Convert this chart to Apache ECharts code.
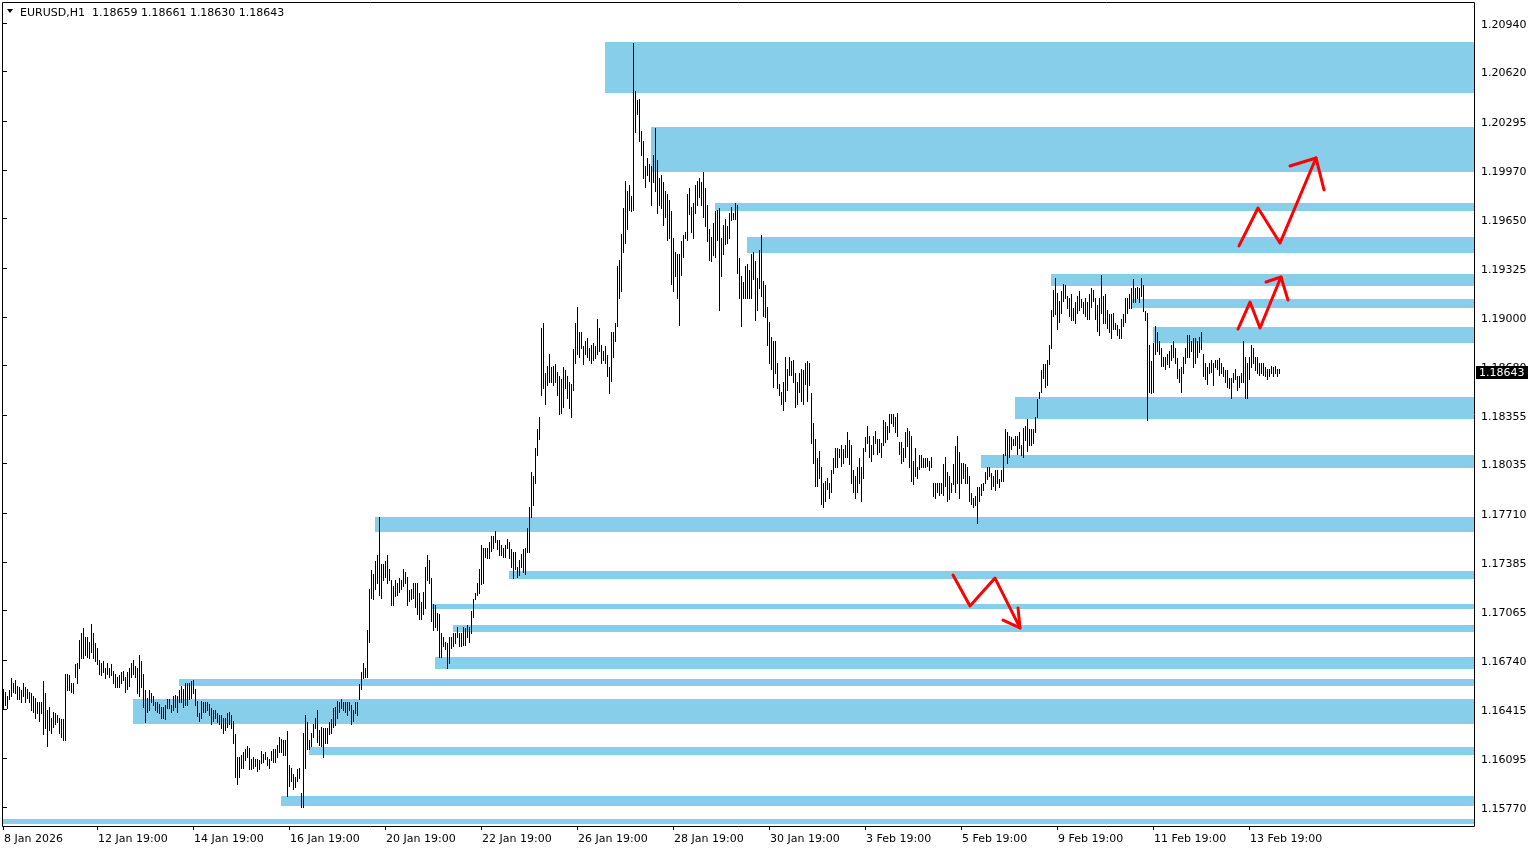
<!DOCTYPE html>
<html><head><meta charset="utf-8">
<script src="https://cdn.jsdelivr.net/npm/echarts@6/dist/echarts.min.js"></script>
<style>html,body{margin:0;padding:0;background:#fff}#c{width:1538px;height:850px}</style>
</head><body><div id="c"></div>
<script>
// ---- data ----
const symbolName = "EURUSD,H1";
const lastOHLC = [1.18659, 1.18661, 1.18630, 1.18643];
const timeLabels = ["8 Jan 2026","12 Jan 19:00","14 Jan 19:00","16 Jan 19:00","20 Jan 19:00","22 Jan 19:00","26 Jan 19:00","28 Jan 19:00","30 Jan 19:00","3 Feb 19:00","5 Feb 19:00","9 Feb 19:00","11 Feb 19:00","13 Feb 19:00"];
const timeLabelBars = [0,47,95,143,191,239,287,335,383,431,479,527,575,623];
const priceTicks = [1.20940,1.20620,1.20295,1.19970,1.19650,1.19325,1.19000,1.18680,1.18355,1.18035,1.17710,1.17385,1.17065,1.16740,1.16415,1.16095,1.15770];

const highs = [
1.1655,1.1653,1.1650,1.1654,1.1662,1.1659,1.1661,1.1657,1.1656,1.1654,
1.1659,1.1656,1.1655,1.1653,1.1652,1.1650,1.1649,1.1646,1.1646,1.1646,
1.1660,1.1652,1.1641,1.1643,1.1636,1.1640,1.1639,1.1638,1.1636,1.1635,
1.1635,1.1665,1.1665,1.1664,1.1659,1.1659,1.1671,1.1672,1.1687,1.1692,
1.1695,1.1689,1.1689,1.1686,1.1698,1.1692,1.1685,1.1682,1.1674,1.1672,
1.1673,1.1669,1.1672,1.1669,1.1671,1.1667,1.1665,1.1663,1.1664,1.1666,
1.1667,1.1663,1.1666,1.1669,1.1672,1.1674,1.1670,1.1669,1.1677,1.1673,
1.1665,1.1654,1.1649,1.1654,1.1652,1.1650,1.1646,1.1646,1.1645,1.1643,
1.1643,1.1644,1.1648,1.1648,1.1644,1.1650,1.1651,1.1650,1.1654,1.1657,
1.1655,1.1659,1.1659,1.1659,1.1660,1.1661,1.1655,1.1647,1.1639,1.1647,
1.1646,1.1646,1.1646,1.1645,1.1642,1.1641,1.1641,1.1639,1.1638,1.1638,
1.1636,1.1636,1.1639,1.1640,1.1638,1.1634,1.1625,1.1610,1.1610,1.1611,
1.1613,1.1615,1.1617,1.1616,1.1609,1.1610,1.1609,1.1609,1.1608,1.1614,
1.1612,1.1613,1.1610,1.1609,1.1614,1.1615,1.1615,1.1618,1.1623,1.1622,
1.1621,1.1621,1.1627,1.1605,1.1603,1.1599,1.1597,1.1602,1.1603,1.1586,
1.1626,1.1638,1.1633,1.1621,1.1626,1.1632,1.1636,1.1641,1.1628,1.1630,
1.1629,1.1629,1.1629,1.1633,1.1635,1.1642,1.1643,1.1647,1.1646,1.1648,
1.1646,1.1646,1.1646,1.1646,1.1644,1.1641,1.1646,1.1646,1.1658,1.1666,
1.1672,1.1669,1.1694,1.1721,1.1733,1.1731,1.1739,1.1743,1.1768,1.1737,
1.1737,1.1739,1.1743,1.1734,1.1727,1.1723,1.1727,1.1725,1.1728,1.1727,
1.1734,1.1732,1.1729,1.1720,1.1721,1.1725,1.1725,1.1725,1.1718,1.1712,
1.1719,1.1735,1.1743,1.1740,1.1728,1.1711,1.1710,1.1705,1.1704,1.1692,
1.1689,1.1686,1.1685,1.1689,1.1689,1.1692,1.1692,1.1696,1.1692,1.1692,
1.1696,1.1695,1.1697,1.1696,1.1706,1.1714,1.1718,1.1725,1.1734,1.1750,
1.1748,1.1748,1.1748,1.1752,1.1756,1.1756,1.1759,1.1753,1.1753,1.1750,
1.1748,1.1750,1.1754,1.1752,1.1747,1.1745,1.1745,1.1735,1.1740,1.1744,
1.1747,1.1748,1.1761,1.1775,1.1798,1.1795,1.1814,1.1826,1.1834,1.1893,
1.1896,1.1863,1.1868,1.1876,1.1867,1.1868,1.1869,1.1864,1.1861,1.1859,
1.1867,1.1865,1.1861,1.1857,1.1856,1.1879,1.1896,1.1907,1.1890,1.1890,
1.1881,1.1884,1.1886,1.1880,1.1882,1.1883,1.1881,1.1899,1.1893,1.1882,
1.1878,1.1881,1.1875,1.1867,1.1890,1.1890,1.1896,1.1934,1.1938,1.1955,
1.1972,1.1990,1.1983,1.1987,1.1980,1.2081,1.2049,1.2043,1.2044,1.2023,
1.2016,1.2000,1.2005,1.2001,1.2000,1.2007,1.2025,1.2004,1.1992,1.1994,
1.1989,1.1983,1.1981,1.1977,1.1970,1.1952,1.1943,1.1942,1.1942,1.1950,
1.1954,1.1956,1.1981,1.1985,1.1973,1.1975,1.1987,1.1990,1.1992,1.1989,
1.1996,1.1985,1.1974,1.1958,1.1953,1.1962,1.1970,1.1971,1.1972,1.1952,
1.1961,1.1965,1.1960,1.1969,1.1973,1.1969,1.1975,1.1974,1.1939,1.1927,
1.1923,1.1934,1.1935,1.1931,1.1942,1.1943,1.1937,1.1926,1.1944,1.1954,
1.1924,1.1921,1.1907,1.1897,1.1887,1.1884,1.1884,1.1870,1.1856,1.1851,
1.1857,1.1874,1.1866,1.1874,1.1871,1.1872,1.1863,1.1857,1.1863,1.1866,
1.1865,1.1870,1.1871,1.1870,1.1850,1.1830,1.1820,1.1807,1.1812,1.1801,
1.1791,1.1792,1.1794,1.1791,1.1799,1.1807,1.1814,1.1814,1.1813,1.1816,
1.1813,1.1816,1.1824,1.1819,1.1816,1.1799,1.1795,1.1801,1.1807,1.1801,
1.1814,1.1821,1.1828,1.1822,1.1816,1.1822,1.1825,1.1820,1.1820,1.1817,
1.1832,1.1831,1.1828,1.1836,1.1836,1.1836,1.1834,1.1837,1.1818,1.1818,
1.1814,1.1824,1.1827,1.1825,1.1822,1.1805,1.1814,1.1801,1.1809,1.1809,
1.1807,1.1807,1.1807,1.1805,1.1808,1.1791,1.1791,1.1791,1.1791,1.1791,
1.1803,1.1808,1.1798,1.1795,1.1791,1.1803,1.1815,1.1822,1.1811,1.1804,
1.1804,1.1803,1.1801,1.1795,1.1784,1.1781,1.1782,1.1788,1.1788,1.1790,
1.1791,1.1798,1.1801,1.1801,1.1797,1.1795,1.1799,1.1799,1.1793,1.1799,
1.1810,1.1826,1.1824,1.1822,1.1821,1.1820,1.1822,1.1822,1.1824,1.1816,
1.1827,1.1828,1.1833,1.1826,1.1826,1.1826,1.1834,1.1846,1.1851,1.1865,
1.1869,1.1869,1.1872,1.1882,1.1905,1.1918,1.1926,1.1916,1.1911,1.1917,
1.1922,1.1921,1.1914,1.1913,1.1915,1.1906,1.1910,1.1914,1.1917,1.1912,
1.1910,1.1913,1.1910,1.1915,1.1919,1.1918,1.1913,1.1908,1.1913,1.1928,
1.1914,1.1915,1.1905,1.1902,1.1902,1.1903,1.1896,1.1895,1.1892,1.1899,
1.1902,1.1913,1.1913,1.1915,1.1919,1.1925,1.1919,1.1920,1.1919,1.1926,
1.1921,1.1904,1.1903,1.1882,1.1871,1.1883,1.1894,1.1890,1.1884,1.1880,
1.1874,1.1874,1.1876,1.1878,1.1882,1.1884,1.1880,1.1873,1.1866,1.1867,
1.1874,1.1880,1.1888,1.1888,1.1884,1.1886,1.1886,1.1884,1.1887,1.1890,
1.1876,1.1870,1.1867,1.1870,1.1872,1.1870,1.1872,1.1872,1.1873,1.1870,
1.1867,1.1865,1.1865,1.1860,1.1860,1.1863,1.1866,1.1861,1.1861,1.1863,
1.1884,1.1874,1.1870,1.1874,1.1882,1.1880,1.1874,1.1874,1.1870,1.1870,
1.1870,1.1867,1.1866,1.1866,1.1868,1.1867,1.1868,1.1866,1.18661
];
const lows = [
1.1642,1.1644,1.1642,1.1648,1.1650,1.1653,1.1652,1.1648,1.1648,1.1646,
1.1650,1.1646,1.1649,1.1646,1.1641,1.1640,1.1636,1.1639,1.1634,1.1639,
1.1625,1.1629,1.1617,1.1628,1.1626,1.1630,1.1632,1.1633,1.1626,1.1623,
1.1621,1.1621,1.1654,1.1654,1.1653,1.1652,1.1663,1.1659,1.1669,1.1675,
1.1675,1.1677,1.1676,1.1675,1.1679,1.1675,1.1673,1.1671,1.1665,1.1664,
1.1666,1.1662,1.1665,1.1663,1.1664,1.1659,1.1656,1.1656,1.1656,1.1659,
1.1661,1.1653,1.1655,1.1657,1.1663,1.1665,1.1663,1.1652,1.1650,1.1656,
1.1643,1.1633,1.1640,1.1641,1.1646,1.1644,1.1641,1.1640,1.1639,1.1636,
1.1636,1.1635,1.1642,1.1642,1.1640,1.1641,1.1643,1.1640,1.1646,1.1646,
1.1643,1.1644,1.1644,1.1648,1.1649,1.1652,1.1644,1.1637,1.1634,1.1636,
1.1640,1.1640,1.1641,1.1638,1.1632,1.1634,1.1636,1.1633,1.1632,1.1629,
1.1626,1.1628,1.1630,1.1632,1.1629,1.1619,1.1597,1.1592,1.1597,1.1603,
1.1603,1.1608,1.1610,1.1602,1.1602,1.1603,1.1604,1.1601,1.1602,1.1606,
1.1607,1.1609,1.1605,1.1603,1.1608,1.1607,1.1607,1.1610,1.1613,1.1613,
1.1611,1.1611,1.1584,1.1591,1.1594,1.1589,1.1590,1.1594,1.1596,1.1577,
1.1577,1.1603,1.1615,1.1615,1.1617,1.1623,1.1629,1.1620,1.1618,1.1617,
1.1610,1.1619,1.1619,1.1625,1.1626,1.1630,1.1631,1.1636,1.1640,1.1642,
1.1641,1.1640,1.1638,1.1641,1.1632,1.1634,1.1639,1.1638,1.1648,1.1655,
1.1662,1.1663,1.1663,1.1686,1.1715,1.1714,1.1721,1.1725,1.1717,1.1715,
1.1727,1.1729,1.1725,1.1727,1.1710,1.1710,1.1716,1.1717,1.1719,1.1721,
1.1723,1.1725,1.1710,1.1713,1.1714,1.1715,1.1709,1.1704,1.1701,1.1701,
1.1704,1.1708,1.1727,1.1725,1.1700,1.1694,1.1696,1.1694,1.1676,1.1676,
1.1683,1.1681,1.1669,1.1672,1.1682,1.1683,1.1685,1.1689,1.1683,1.1683,
1.1684,1.1684,1.1689,1.1686,1.1692,1.1702,1.1714,1.1717,1.1718,1.1724,
1.1725,1.1742,1.1741,1.1741,1.1746,1.1748,1.1752,1.1747,1.1743,1.1743,
1.1742,1.1742,1.1748,1.1741,1.1735,1.1728,1.1734,1.1729,1.1730,1.1735,
1.1732,1.1731,1.1745,1.1745,1.1768,1.1776,1.1791,1.1809,1.1820,1.1849,
1.1853,1.1843,1.1855,1.1857,1.1857,1.1855,1.1857,1.1849,1.1836,1.1837,
1.1841,1.1853,1.1847,1.1840,1.1834,1.1852,1.1870,1.1876,1.1874,1.1880,
1.1869,1.1876,1.1874,1.1872,1.1870,1.1872,1.1873,1.1876,1.1878,1.1870,
1.1872,1.1870,1.1861,1.1850,1.1858,1.1874,1.1884,1.1894,1.1913,1.1917,
1.1943,1.1949,1.1958,1.1971,1.1970,1.1971,1.2022,1.2034,1.2016,1.2007,
1.1992,1.1986,1.1994,1.1990,1.1974,1.1989,1.1983,1.1969,1.1974,1.1972,
1.1961,1.1966,1.1951,1.1952,1.1922,1.1917,1.1927,1.1913,1.1895,1.1928,
1.1940,1.1952,1.1951,1.1968,1.1956,1.1952,1.1969,1.1974,1.1979,1.1974,
1.1966,1.1960,1.1950,1.1938,1.1937,1.1941,1.1940,1.1951,1.1905,1.1927,
1.1942,1.1948,1.1949,1.1952,1.1964,1.1965,1.1965,1.1929,1.1913,1.1894,
1.1913,1.1913,1.1913,1.1913,1.1913,1.1925,1.1898,1.1905,1.1919,1.1914,
1.1901,1.1900,1.1882,1.1870,1.1866,1.1854,1.1863,1.1853,1.1849,1.1843,
1.1839,1.1845,1.1852,1.1862,1.1862,1.1857,1.1841,1.1843,1.1851,1.1845,
1.1843,1.1856,1.1845,1.1855,1.1817,1.1804,1.1789,1.1789,1.1794,1.1777,
1.1775,1.1779,1.1787,1.1781,1.1785,1.1797,1.1801,1.1801,1.1808,1.1802,
1.1804,1.1808,1.1808,1.1803,1.1791,1.1785,1.1781,1.1785,1.1791,1.1779,
1.1794,1.1812,1.1817,1.1808,1.1805,1.1810,1.1817,1.1810,1.1811,1.1808,
1.1816,1.1818,1.1820,1.1824,1.1830,1.1828,1.1824,1.1822,1.1810,1.1804,
1.1805,1.1808,1.1815,1.1801,1.1792,1.1790,1.1795,1.1794,1.1800,1.1801,
1.1801,1.1801,1.1802,1.1799,1.1801,1.1782,1.1781,1.1785,1.1783,1.1784,
1.1783,1.1789,1.1779,1.1780,1.1785,1.1790,1.1785,1.1791,1.1781,1.1791,
1.1794,1.1791,1.1791,1.1779,1.1777,1.1775,1.1776,1.1764,1.1779,1.1783,
1.1786,1.1791,1.1793,1.1795,1.1787,1.1789,1.1786,1.1791,1.1788,1.1792,
1.1792,1.1809,1.1804,1.1808,1.1813,1.1816,1.1816,1.1810,1.1814,1.1809,
1.1808,1.1819,1.1812,1.1816,1.1816,1.1817,1.1824,1.1834,1.1847,1.1851,
1.1860,1.1854,1.1855,1.1869,1.1880,1.1901,1.1902,1.1892,1.1897,1.1903,
1.1911,1.1913,1.1906,1.1901,1.1898,1.1898,1.1896,1.1903,1.1905,1.1907,
1.1903,1.1901,1.1899,1.1899,1.1907,1.1911,1.1899,1.1891,1.1888,1.1903,
1.1896,1.1896,1.1893,1.1890,1.1886,1.1892,1.1892,1.1888,1.1886,1.1886,
1.1894,1.1897,1.1903,1.1906,1.1906,1.1910,1.1910,1.1913,1.1910,1.1914,
1.1904,1.1898,1.1832,1.1851,1.1850,1.1851,1.1876,1.1878,1.1876,1.1868,
1.1868,1.1866,1.1869,1.1867,1.1872,1.1874,1.1870,1.1860,1.1857,1.1851,
1.1863,1.1870,1.1874,1.1874,1.1878,1.1867,1.1870,1.1874,1.1877,1.1879,
1.1861,1.1859,1.1856,1.1863,1.1864,1.1855,1.1867,1.1866,1.1862,1.1863,
1.1861,1.1857,1.1854,1.1853,1.1847,1.1857,1.1859,1.1852,1.1854,1.1857,
1.1857,1.1847,1.1847,1.1859,1.1867,1.1870,1.1865,1.1863,1.1862,1.1863,
1.1862,1.1861,1.1859,1.1861,1.1863,1.1861,1.1863,1.1861,1.18630
];

// supply / demand zones: first bar index, upper price, lower price
const zoneStartBar = [301,324,356,372,524,564,575,506,489,186,253,214,225,216,88,65,153,139,0];
const zoneTop    = [1.20815,1.20252,1.19753,1.19529,1.19285,1.19120,1.18933,1.18476,1.18091,1.17685,1.17329,1.17109,1.16970,1.16761,1.16614,1.16482,1.16168,1.15845,1.15691];
const zoneBottom = [1.20478,1.19959,1.19700,1.19425,1.19208,1.19063,1.18832,1.18329,1.18008,1.17586,1.17274,1.17076,1.16926,1.16680,1.16568,1.16317,1.16113,1.15777,1.15659];

// hand-drawn red arrows (bar index, price)
const arrowUpperPath = [[618,1.19470],[627.5,1.19720],[638.5,1.19489],[656.5,1.20050]];
const arrowUpperHead = [[643.5,1.19997],[656.5,1.20050],[660.5,1.19839]];
const arrowMidPath   = [[617.5,1.18922],[623.5,1.19100],[628.5,1.18929],[639,1.19265]];
const arrowMidHead   = [[631.5,1.19232],[639,1.19265],[642.5,1.19113]];
const arrowDownPath  = [[475,1.17300],[483.5,1.17096],[496,1.17280],[508.5,1.16951]];
const arrowDownHead  = [[500,1.17003],[508.5,1.16951],[507.5,1.17083]];

// ---- chart ----
const X_MAX = 735.5, Y_MIN = 1.15645, Y_MAX = 1.21072;
const FONT = 'DejaVu Sans';
const bars = highs.map((h, i) => [i, lows[i], h]);
const zones = zoneStartBar.map((s, i) => [s, zoneTop[i], zoneBottom[i]]);

const chart = echarts.init(document.getElementById('c'), null, {renderer: 'canvas'});

function arrowSeries(data) {
  return {type: 'line', data: data, symbol: 'none', silent: true, z: 6,
    lineStyle: {color: '#ff0000', width: 3, cap: 'round', join: 'round'}};
}

chart.setOption({
  animation: false,
  backgroundColor: '#ffffff',
  textStyle: {fontFamily: FONT},
  grid: {left: 3, right: 64, top: 3, bottom: 24, show: false},
  xAxis: {
    type: 'value', min: 0, max: X_MAX,
    axisLine: {show: false}, splitLine: {show: false},
    axisTick: {show: true, customValues: timeLabelBars, length: 4, lineStyle: {color: '#000'}},
    axisLabel: {customValues: timeLabelBars, align: 'left', margin: 8,
      color: '#000', fontSize: 11, fontFamily: FONT,
      formatter: v => '{t|' + (timeLabels[timeLabelBars.indexOf(Math.round(v))] || '') + '}',
      rich: {t: {padding: [0, 0, 0, 1], fontSize: 11, fontFamily: FONT, color: '#000'}}}
  },
  yAxis: {
    type: 'value', position: 'right', min: Y_MIN, max: Y_MAX,
    axisLine: {show: false}, splitLine: {show: false},
    axisTick: {show: true, customValues: priceTicks, length: 4, lineStyle: {color: '#000'}},
    axisLabel: {customValues: priceTicks, margin: 7, color: '#000', fontSize: 11, fontFamily: FONT,
      formatter: v => '{p|' + v.toFixed(5) + '}',
      rich: {p: {padding: [4, 0, 0, 0], fontSize: 11, fontFamily: FONT, color: '#000'}}}
  },
  graphic: [
    {type: 'rect', z: 50, silent: true, shape: {x: 2.5, y: 2.5, width: 1472, height: 824},
      style: {fill: null, stroke: '#000', lineWidth: 1}},
    {type: 'polygon', z: 50, silent: true, shape: {points: [[7, 9], [13, 9], [10, 13]]}, style: {fill: '#000'}},
    {type: 'text', z: 50, silent: true, x: 20, y: 13,
      style: {text: symbolName + '  ' + lastOHLC.map(v => v.toFixed(5)).join(' '),
        fontSize: 11, fontFamily: FONT, fill: '#000', verticalAlign: 'middle'}}
  ],
  series: [
    {
      type: 'custom', z: 1, silent: true, clip: true, data: zones,
      renderItem: function (params, api) {
        const p1 = api.coord([api.value(0), api.value(1)]);
        const p2 = api.coord([X_MAX, api.value(2)]);
        const x1 = Math.round(p1[0]), y1 = Math.round(p1[1]);
        return {type: 'rect', shape: {x: x1, y: y1, width: Math.round(p2[0]) - x1, height: Math.round(p2[1]) - y1},
          style: {fill: '#87CEEB'}};
      }
    },
    {
      type: 'custom', z: 3, silent: true, clip: true, data: bars,
      encode: {x: 0, y: [1, 2]},
      renderItem: function (params, api) {
        const lo = api.coord([api.value(0), api.value(1)]);
        const hi = api.coord([api.value(0), api.value(2)]);
        const x = Math.round(lo[0]) + 0.5;
        return {type: 'line', shape: {x1: x, y1: Math.round(hi[1]), x2: x, y2: Math.round(lo[1]) + 1},
          style: {stroke: '#000', lineWidth: 1}};
      }
    },
    {
      // current price tag on the price scale
      type: 'custom', z: 20, silent: true, clip: false, data: [[X_MAX, lastOHLC[3]]],
      renderItem: function (params, api) {
        const p = api.coord([api.value(0), api.value(1)]);
        const x = Math.round(p[0]) + 2, y = Math.round(p[1]);
        return {type: 'group', children: [
          {type: 'rect', shape: {x: x, y: y - 5, width: 52, height: 13}, style: {fill: '#000'}},
          {type: 'text', x: x + 3, y: y + 2, style: {text: api.value(1).toFixed(5), fill: '#fff',
            fontSize: 11, fontFamily: FONT, verticalAlign: 'middle'}}
        ]};
      }
    },
    arrowSeries(arrowUpperPath), arrowSeries(arrowUpperHead),
    arrowSeries(arrowMidPath), arrowSeries(arrowMidHead),
    arrowSeries(arrowDownPath), arrowSeries(arrowDownHead)
  ]
});
</script>
</body></html>
